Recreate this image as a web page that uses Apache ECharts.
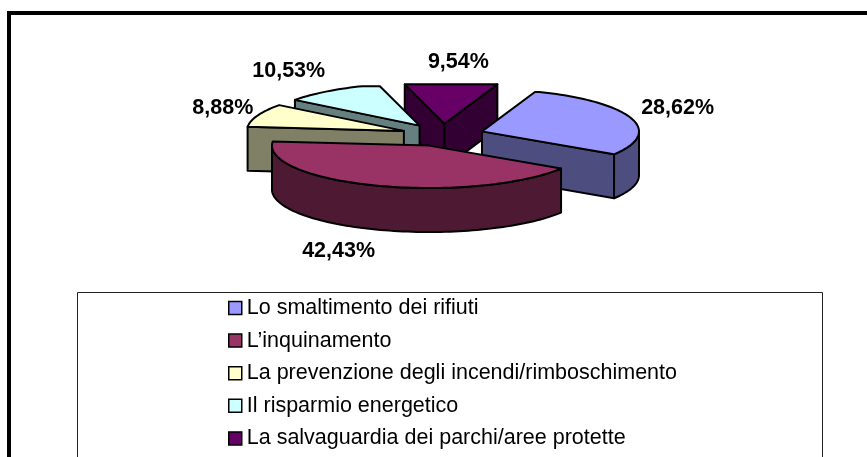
<!DOCTYPE html>
<html>
<head>
<meta charset="utf-8">
<style>
  html, body { margin: 0; padding: 0; background: #fff; }
  #chart { width: 867px; height: 457px; }
</style>
<script src="https://cdn.jsdelivr.net/npm/echarts@6/dist/echarts.min.js"></script>
</head>
<body>
<div id="chart"></div>
<script>
const categories = [
  'Lo smaltimento dei rifiuti',
  'L’inquinamento',
  'La prevenzione degli incendi/rimboschimento',
  'Il risparmio energetico',
  'La salvaguardia dei parchi/aree protette'
];
const values = [28.62, 42.43, 8.88, 10.53, 9.54];
const valueLabels = ['28,62%', '42,43%', '8,88%', '10,53%', '9,54%'];

const topColors = ['#9999FF', '#993366', '#FFFFCC', '#CCFFFF', '#660066'];
const wallColors = ['#4D4D80', '#4D1933', '#808066', '#668080', '#330033'];
// label offset from the middle of each slice's outer edge
const labelOffsets = [[47, -10], [-39, 65], [-35, -7], [-44, -19], [7, -19]];

// fake 3d pie geometry
const cx = 442.6, cy = 135;
const radius = 157;
const squash = 0.27;
const depth = 44;
const explode = 41.6;
const startAngle = 19.7 * Math.PI / 180;
const backFlatten = 0.93; // the far rim is almost straight in the original

const total = values.reduce((a, b) => a + b, 0);
const slices = [];
let acc = startAngle;
values.forEach((v) => {
  const span = v / total * Math.PI * 2;
  slices.push({ start: acc, end: acc + span, mid: acc + span / 2 });
  acc += span;
});

// angle is clockwise from the top of the pie
function project(ax, ay, angle, r) {
  return [ax + Math.sin(angle) * r, ay - Math.cos(angle) * r * squash];
}

function rimPoint(ax, ay, angle) {
  return [
    ax + Math.sin(angle) * radius,
    ay - Math.min(Math.cos(angle), backFlatten) * radius * squash
  ];
}

function arcPoints(ax, ay, a, b) {
  const pts = [];
  const steps = Math.max(2, Math.ceil((b - a) / 0.03));
  for (let i = 0; i <= steps; i++) {
    pts.push(rimPoint(ax, ay, a + (b - a) * i / steps));
  }
  return pts;
}

function wallFromEdge(pts) {
  const lower = pts.map(p => [p[0], p[1] + depth]).reverse();
  return pts.concat(lower);
}

function renderSlice(idx) {
  const s = slices[idx];
  const [ax, ay] = project(cx, cy, s.mid, explode);
  const line = { stroke: '#000', lineWidth: 2, lineJoin: 'round' };
  const children = [];
  const addWall = (pts) => children.push({
    type: 'polygon',
    shape: { points: wallFromEdge(pts) },
    style: { fill: wallColors[idx], ...line }
  });

  // radial walls, only the ones facing the viewer
  if (Math.sin(s.start) < 0) addWall([[ax, ay], rimPoint(ax, ay, s.start)]);
  if (Math.sin(s.end) > 0) addWall([[ax, ay], rimPoint(ax, ay, s.end)]);

  // outer wall, front half of the rim only
  const from = Math.max(s.start, Math.PI / 2);
  const to = Math.min(s.end, Math.PI * 1.5);
  if (to > from) addWall(arcPoints(ax, ay, from, to));

  children.push({
    type: 'polygon',
    shape: { points: [[ax, ay]].concat(arcPoints(ax, ay, s.start, s.end)) },
    style: { fill: topColors[idx], ...line }
  });

  const edge = project(ax, ay, s.mid, radius);
  children.push({
    type: 'text',
    z2: 100,
    style: {
      x: edge[0] + labelOffsets[idx][0],
      y: edge[1] + labelOffsets[idx][1],
      text: valueLabels[idx],
      fill: '#000',
      font: 'bold 21.5px "Liberation Sans", Arial, sans-serif',
      align: 'center',
      verticalAlign: 'middle'
    }
  });
  return { type: 'group', children };
}

// back slices are painted first
const order = slices.map((s, i) => i).sort((a, b) => Math.cos(slices[b].mid) - Math.cos(slices[a].mid));

const chart = echarts.init(document.getElementById('chart'), null, { renderer: 'canvas' });
chart.setOption({
  animation: false,
  backgroundColor: '#fff',
  graphic: [
    {
      type: 'polyline',
      z: 0,
      shape: { points: [[9, 457], [9, 13], [867, 13]] },
      style: { stroke: '#000', lineWidth: 4, fill: null }
    },
    {
      type: 'rect',
      z: 0,
      shape: { x: 77.5, y: 292.5, width: 745, height: 180 },
      style: { stroke: '#222', lineWidth: 1, fill: '#fff' }
    }
  ],
  legend: {
    orient: 'vertical',
    left: 223,
    top: 292,
    padding: 5,
    itemWidth: 13,
    itemHeight: 13,
    itemGap: 10.6,
    selectedMode: false,
    icon: 'rect',
    textStyle: {
      color: '#000',
      fontSize: 21.5,
      fontFamily: '"Liberation Sans", Arial, sans-serif'
    },
    data: categories.map((name, i) => ({
      name,
      itemStyle: { color: topColors[i], borderColor: '#000', borderWidth: 1.5 }
    }))
  },
  series: categories.map((name, i) => ({
    type: 'custom',
    name,
    coordinateSystem: 'none',
    z: 2 + order.indexOf(i),
    silent: true,
    itemStyle: { color: topColors[i] },
    data: [values[i]],
    renderItem: () => renderSlice(i)
  }))
});
</script>
</body>
</html>
